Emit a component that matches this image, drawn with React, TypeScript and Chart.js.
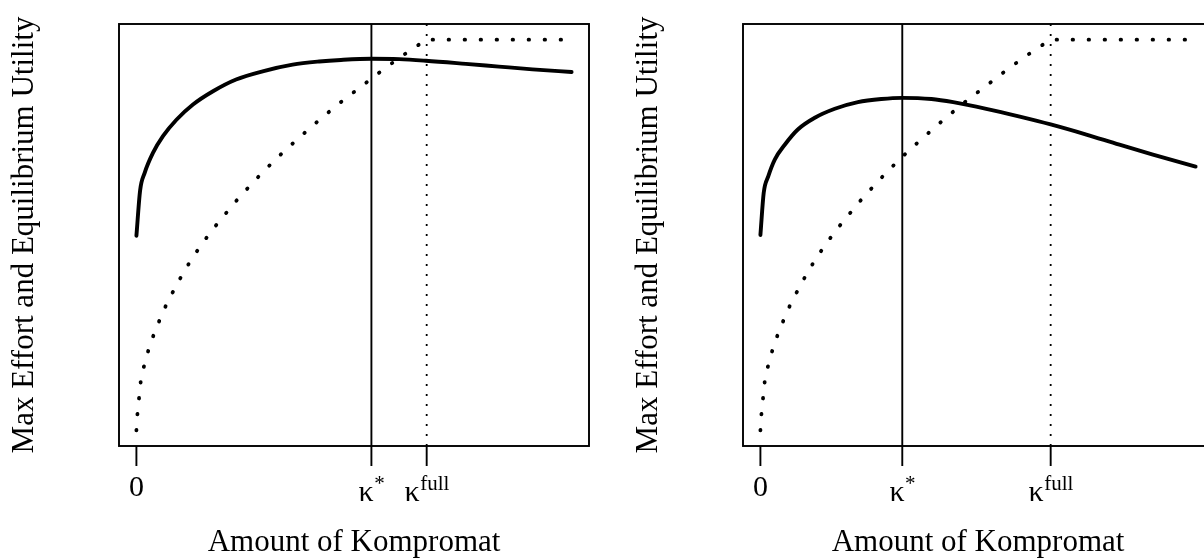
import React, { useEffect, useRef } from "react";
import { Chart, registerables } from "chart.js";

Chart.register(...registerables);

// ---- Data (x normalised: 0 = no kompromat, 1 = right end of the curves) ----
const dottedX = [0, 0.0023, 0.0061, 0.0099, 0.0176, 0.0275, 0.0398, 0.0535, 0.0688, 0.0856, 0.1032, 0.1223, 0.143, 0.165, 0.188, 0.212, 0.236, 0.261, 0.287, 0.313, 0.34, 0.368, 0.395, 0.424, 0.452, 0.481, 0.511, 0.541, 0.57, 0.6, 0.631, 0.667, 1.0];
const dottedY = [0, 0.041, 0.083, 0.125, 0.165, 0.205, 0.245, 0.283, 0.322, 0.358, 0.394, 0.43, 0.465, 0.499, 0.532, 0.564, 0.596, 0.626, 0.657, 0.686, 0.715, 0.743, 0.77, 0.798, 0.824, 0.85, 0.875, 0.901, 0.926, 0.95, 0.974, 1.0, 1.0];

const leftSolidX = [0, 0.0085, 0.019, 0.038, 0.061, 0.092, 0.13, 0.176, 0.229, 0.29, 0.359, 0.42, 0.47, 0.54, 0.604, 0.665, 0.757, 0.833, 0.91, 1.0];
const leftSolidY = [0.498, 0.614, 0.659, 0.71, 0.753, 0.795, 0.834, 0.868, 0.898, 0.919, 0.936, 0.944, 0.948, 0.951, 0.95, 0.946, 0.938, 0.931, 0.924, 0.917];

const rightSolidX = [0, 0.0076, 0.018, 0.033, 0.056, 0.086, 0.125, 0.171, 0.224, 0.278, 0.326, 0.393, 0.443, 0.519, 0.596, 0.667, 0.749, 0.825, 0.902, 1.0];
const rightSolidY = [0.5, 0.608, 0.65, 0.693, 0.731, 0.77, 0.8, 0.823, 0.84, 0.848, 0.851, 0.848, 0.84, 0.823, 0.803, 0.783, 0.757, 0.731, 0.706, 0.675];

const kappaStarLeft = 0.54;
const kappaStarRight = 0.326;
const kappaFull = 0.667;

const tickBase = ["0", "κ", "κ"];
const tickSup = ["", "*", "full"];

const xTitle = "Amount of Kompromat";
const yTitle = "Max Effort and Equilibrium Utility";

const FONT = "'Liberation Serif', 'Times New Roman', serif";

function toPoints(xs: number[], ys: number[]) {
  return xs.map((x, i) => ({ x, y: ys[i] }));
}

function Panel({ solidX, solidY, kStar }: { solidX: number[]; solidY: number[]; kStar: number }) {
  const ref = useRef<HTMLCanvasElement | null>(null);
  useEffect(() => {
    if (!ref.current) return;
    const decor = {
      id: "rdecor",
      afterDatasetsDraw(chart: any) {
        const ctx = chart.ctx;
        const area = chart.chartArea;
        const xs = chart.scales.x;
        ctx.save();
        ctx.strokeStyle = "#000";
        ctx.fillStyle = "#000";
        // vertical reference lines
        const ps = xs.getPixelForValue(kStar);
        ctx.lineWidth = 1.9;
        ctx.beginPath();
        ctx.moveTo(ps, area.top);
        ctx.lineTo(ps, area.bottom);
        ctx.stroke();
        const pf = xs.getPixelForValue(kappaFull);
        ctx.lineWidth = 1.8;
        ctx.setLineDash([2, 8]);
        ctx.beginPath();
        ctx.moveTo(pf, area.top);
        ctx.lineTo(pf, area.bottom);
        ctx.stroke();
        ctx.setLineDash([]);
        // box
        ctx.lineWidth = 1.9;
        ctx.strokeRect(area.left, area.top, area.right - area.left, area.bottom - area.top);
        // ticks
        const tickVals = [0, kStar, kappaFull];
        tickVals.forEach((v) => {
          const p = xs.getPixelForValue(v);
          ctx.beginPath();
          ctx.moveTo(p, area.bottom);
          ctx.lineTo(p, area.bottom + 20);
          ctx.stroke();
        });
        // tick labels
        const baseSize = 30;
        const supSize = 21;
        tickVals.forEach((v, i) => {
          const p = xs.getPixelForValue(v);
          ctx.font = `${baseSize}px ${FONT}`;
          const wb = ctx.measureText(tickBase[i]).width;
          ctx.font = `${supSize}px ${FONT}`;
          const wsup = tickSup[i] ? ctx.measureText(tickSup[i]).width : 0;
          const total = wb + wsup;
          const x0 = p - total / 2;
          ctx.textAlign = "left";
          ctx.textBaseline = "alphabetic";
          ctx.font = `${baseSize}px ${FONT}`;
          ctx.fillText(tickBase[i], x0, tickSup[i] ? 501 : 496);
          if (tickSup[i]) {
            ctx.font = `${supSize}px ${FONT}`;
            ctx.fillText(tickSup[i], x0 + wb + 0.5, 490);
          }
        });
        // axis titles
        ctx.font = `31px ${FONT}`;
        ctx.textAlign = "center";
        ctx.textBaseline = "alphabetic";
        ctx.fillText(xTitle, (area.left + area.right) / 2, 551);
        ctx.save();
        ctx.translate(33, (area.top + area.bottom) / 2);
        ctx.rotate(-Math.PI / 2);
        ctx.fillText(yTitle, 0, 0);
        ctx.restore();
        ctx.restore();
      },
    };
    const chart = new Chart(ref.current, {
      type: "line",
      data: {
        datasets: [
          {
            data: toPoints(dottedX, dottedY),
            borderColor: "#000",
            borderWidth: 3.8,
            borderDash: [0.5, 15.5],
            borderCapStyle: "round",
            pointRadius: 0,
            tension: 0,
            fill: false,
          },
          {
            data: toPoints(solidX, solidY),
            borderColor: "#000",
            borderWidth: 3.9,
            borderCapStyle: "round",
            borderJoinStyle: "round",
            pointRadius: 0,
            cubicInterpolationMode: "monotone",
            fill: false,
          },
        ],
      },
      options: {
        responsive: false,
        animation: false,
        events: [],
        layout: { padding: { left: 119, right: 35, top: 24, bottom: 113 } },
        plugins: { legend: { display: false }, tooltip: { enabled: false } },
        scales: {
          x: { type: "linear", min: -0.04, max: 1.04, display: false },
          y: { type: "linear", min: -0.04, max: 1.04, display: false },
        },
      },
      plugins: [decor],
    });
    return () => chart.destroy();
  }, [solidX, solidY, kStar]);
  return <canvas ref={ref} width={624} height={559} style={{ display: "block" }} />;
}

export default function App() {
  return (
    <div style={{ position: "fixed", left: 0, top: 0, width: 1204, height: 559, overflow: "hidden", background: "#fff" }}>
      <div style={{ position: "absolute", left: 0, top: 0 }}>
        <Panel solidX={leftSolidX} solidY={leftSolidY} kStar={kappaStarLeft} />
      </div>
      <div style={{ position: "absolute", left: 624, top: 0 }}>
        <Panel solidX={rightSolidX} solidY={rightSolidY} kStar={kappaStarRight} />
      </div>
    </div>
  );
}
